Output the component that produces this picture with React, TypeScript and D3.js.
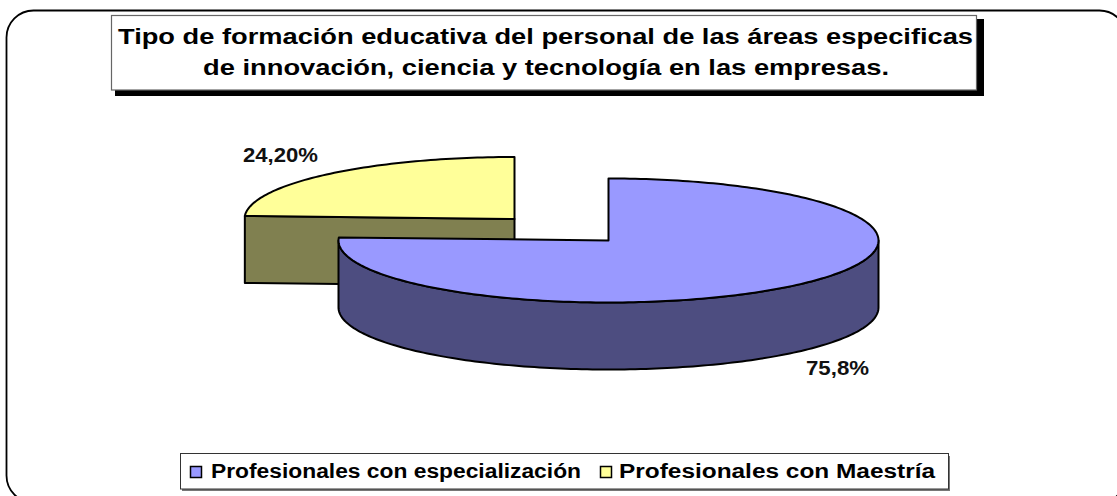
import React from "react";
import * as d3 from "d3";

const categories = ["Profesionales con especialización", "Profesionales con Maestría"];
const values = [75.8, 24.2];
const valueLabels = ["75,8%", "24,20%"];
const topColors = ["#9999FF", "#FFFF99"];
const sideColors = ["#4D4D80", "#808050"];
const titleLines = [
  "Tipo de formación educativa del personal de las áreas especificas",
  "de innovación, ciencia y tecnología en las empresas.",
];

const W = 1117, H = 496;
const RX = 270, RY = 62, DEPTH = 67;
const centers: [number, number][] = [[608.5, 240.5], [514.5, 219]];
const font = "'Liberation Sans', Arial, sans-serif";

const pie = d3.pie<number>().sort(null).startAngle(0).endAngle(2 * Math.PI);
const arcs = pie(values);
const line = d3.line<[number, number]>();

function rim(a0: number, a1: number, c: [number, number], dy = 0): [number, number][] {
  const n = Math.max(2, Math.ceil(Math.abs(a1 - a0) / 0.02));
  return d3.range(n + 1).map((i) => {
    const a = a0 + ((a1 - a0) * i) / n;
    return [c[0] + RX * Math.sin(a), c[1] - RY * Math.cos(a) + dy] as [number, number];
  });
}

function Slice({ i }: { i: number }) {
  const c = centers[i];
  const { startAngle: a0, endAngle: a1 } = arcs[i];
  const top = line([c, ...rim(a0, a1, c), c])! + "Z";
  const s0 = Math.max(a0, Math.PI / 2);
  const s1 = Math.min(a1, (3 * Math.PI) / 2);
  const walls: string[] = [];
  if (s1 > s0) {
    walls.push(line([...rim(s0, s1, c), ...rim(s0, s1, c, DEPTH).reverse()])! + "Z");
  }
  const start = rim(a0, a0, c)[0];
  const cut = (p: [number, number]) =>
    line([p, c, [c[0], c[1] + DEPTH], [p[0], p[1] + DEPTH]])! + "Z";
  if (i === 1) walls.unshift(cut(start));
  return (
    <g stroke="#000" strokeWidth={2} strokeLinejoin="round">
      {walls.map((d, k) => <path key={k} d={d} fill={sideColors[i]} />)}
      <path d={top} fill={topColors[i]} />
    </g>
  );
}

export default function App() {
  return (
    <svg width={W} height={H} style={{ position: "fixed", left: 0, top: 0, background: "#fff" }} fontFamily={font}>
      <rect x={6.5} y={10.5} width={1120} height={492} rx={27} ry={27} fill="#fff" stroke="#000" strokeWidth={1.8} />

      <rect x={115} y={19} width={869} height={77} fill="#000" />
      <rect x={111.5} y={15.5} width={865} height={74.5} fill="#fff" stroke="#666" strokeWidth={1.2} />
      <text x={118} y={43.5} fontSize={22.5} fontWeight="bold" textLength={855} lengthAdjust="spacingAndGlyphs">{titleLines[0]}</text>
      <text x={203} y={74.5} fontSize={22.5} fontWeight="bold" textLength={686} lengthAdjust="spacingAndGlyphs">{titleLines[1]}</text>

      <Slice i={1} />
      <Slice i={0} />

      <text x={243} y={162} fontSize={19.5} fontWeight="bold" fill="#111" textLength={75} lengthAdjust="spacingAndGlyphs">{valueLabels[1]}</text>
      <text x={806} y={375} fontSize={19.5} fontWeight="bold" fill="#111" textLength={63} lengthAdjust="spacingAndGlyphs">{valueLabels[0]}</text>

      <rect x={182} y={456} width={768} height={35} fill="#777" />
      <rect x={180.5} y={453.5} width={768} height={35.5} fill="#fff" stroke="#333" strokeWidth={1} />
      <rect x={190.5} y={466.5} width={11} height={11} fill={topColors[0]} stroke="#000" strokeWidth={1.5} />
      <text x={211} y={478} fontSize={20} fontWeight="bold" textLength={370} lengthAdjust="spacingAndGlyphs">{categories[0]}</text>
      <rect x={600.5} y={466.5} width={11} height={11} fill={topColors[1]} stroke="#000" strokeWidth={1.5} />
      <text x={619} y={478} fontSize={20} fontWeight="bold" textLength={316} lengthAdjust="spacingAndGlyphs">{categories[1]}</text>
    </svg>
  );
}
